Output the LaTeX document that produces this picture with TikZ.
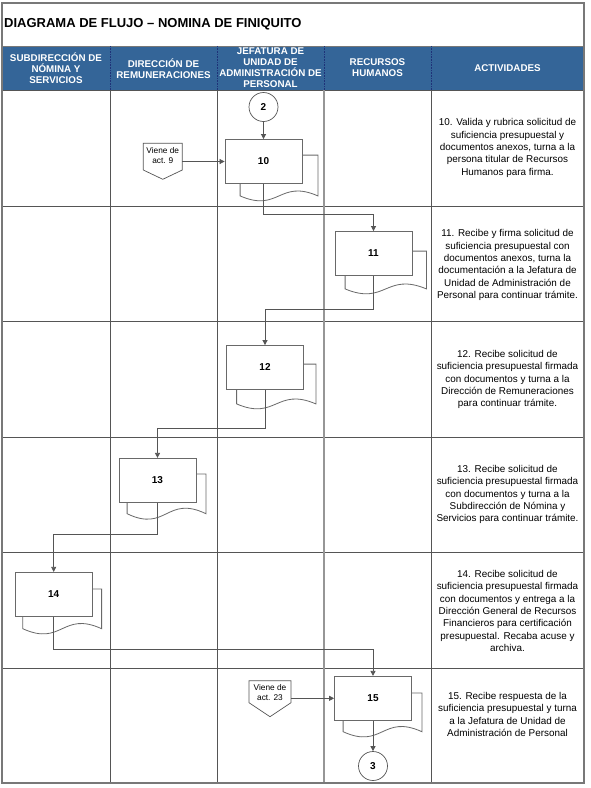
\documentclass[tikz,border=0pt]{standalone}
\usepackage{fontspec}
\setmainfont{Liberation Sans}
\usetikzlibrary{arrows.meta,calc}
\definecolor{hdr}{RGB}{52,101,152}
\definecolor{hdrline}{RGB}{30,50,120}
\definecolor{gridc}{RGB}{85,85,85}
\definecolor{lightgrid}{RGB}{150,150,150}
\definecolor{bordc}{RGB}{120,120,120}
\definecolor{boxc}{RGB}{105,105,105}
\tikzset{
  lane/.style={draw=gridc, line width=0.8pt},
  procbox/.style={draw=boxc, fill=white, line width=0.8pt, minimum width=77pt, minimum height=44pt, inner sep=0pt, font=\bfseries\fontsize{10}{11}\selectfont},
  backdoc/.style={draw=boxc, fill=white, line width=0.8pt},
  conn/.style={draw=gridc, line width=0.7pt},
  arr/.style={conn, -{Triangle[length=5pt,width=5pt]}},
  hdrtxt/.style={text=white, font=\bfseries\fontsize{9.8}{11}\selectfont, align=center, inner sep=0pt},
  acttxt/.style={font=\fontsize{9.9}{12.3}\selectfont, align=center, inner sep=0pt},
  conncirc/.style={draw=gridc, line width=0.7pt, circle, minimum size=29pt, inner sep=0pt, font=\bfseries\fontsize{10}{11}\selectfont, fill=white},
  pentxt/.style={font=\fontsize{8.3}{10}\selectfont, align=center, inner sep=0pt},
  pentshape/.style={draw=gridc, line width=0.7pt, fill=white}
}
% #1 node, #2 left offset, #3 right offset, #4 top offset, #5 bottom offset, #6 wave amplitude
\newcommand{\backpage}[6]{%
  \draw[backdoc] let \p1=(#1.north west), \p2=(#1.south east),
     \p3=(\x1+#2pt,\y2-#5pt), \p4=(\x2+#3pt,\y2-#5pt), \n1={\x4-\x3} in
     (\x1+#2pt,\y1-#4pt) -- (\x2+#3pt,\y1-#4pt) -- (\p4)
     .. controls (\x3+0.5*\n1,\y3+#6pt) and (\x3+0.5*\n1,\y3-#6pt) .. (\p3) -- cycle;}
\begin{document}
\begin{tikzpicture}[x=1pt,y=-1pt]
\useasboundingbox (0,0) rectangle (590,788);
\fill[white] (0,0) rectangle (590,788);
% title
\node[anchor=west, font=\bfseries\fontsize{13}{15}\selectfont, inner sep=0pt] (title) at (4,24) {DIAGRAMA DE FLUJO – NOMINA DE FINIQUITO};
% header band
\fill[hdr] (2,46) rectangle (584,90);
\draw[bordc, line width=1pt] (2,46) -- (584,46);
\foreach \xx in {110,217,324,431}{\draw[hdrline, densely dotted, line width=0.6pt] (\xx,46) -- (\xx,90);}
\draw[gridc, line width=1pt] (2,90.5) -- (584,90.5);
\node[hdrtxt] (h1) at (56,68) {SUBDIRECCIÓN DE\\NÓMINA Y\\SERVICIOS};
\node[hdrtxt] (h2) at (163.5,68.5) {DIRECCIÓN DE\\REMUNERACIONES};
\node[hdrtxt] (h3) at (270.5,67.5) {JEFATURA DE\\UNIDAD DE\\ADMINISTRACIÓN DE\\PERSONAL};
\node[hdrtxt] (h4) at (377.5,67.5) {RECURSOS\\HUMANOS};
\node[hdrtxt] (h5) at (507.5,68) {ACTIVIDADES};
% lanes
\foreach \yy in {206,321,437,552,668}{\draw[lane] (2,\yy) -- (584,\yy);}
\foreach \xx in {110,217,431}{\draw[lane] (\xx,90) -- (\xx,783);}
\draw[lightgrid, line width=1.4pt] (324,90) -- (324,783);
% outer border
\draw[bordc, line width=1.2pt] (2,3) rectangle (584,783);
% activities
\node[acttxt] (t10) at (507.5,148) {10. Valida y rubrica solicitud de\\suficiencia presupuestal y\\documentos anexos, turna a la\\persona titular de Recursos\\Humanos para firma.};
\node[acttxt] (t11) at (507.5,265) {11. Recibe y firma solicitud de\\suficiencia presupuestal con\\documentos anexos, turna la\\documentación a la Jefatura de\\Unidad de Administración de\\Personal para continuar trámite.};
\node[acttxt] (t12) at (507.5,379.5) {12. Recibe solicitud de\\suficiencia presupuestal firmada\\con documentos y turna a la\\Dirección de Remuneraciones\\para continuar trámite.};
\node[acttxt] (t13) at (507.5,494.5) {13. Recibe solicitud de\\suficiencia presupuestal firmada\\con documentos y turna a la\\Subdirección de Nómina y\\Servicios para continuar trámite.};
\node[acttxt] (t14) at (507.5,611) {14. Recibe solicitud de\\suficiencia presupuestal firmada\\con documentos y entrega a la\\Dirección General de Recursos\\Financieros para certificación\\presupuestal. Recaba acuse y\\archiva.};
\node[acttxt] (t15) at (507.5,714.5) {15. Recibe respuesta de la\\suficiencia presupuestal y turna\\a la Jefatura de Unidad de\\Administración de Personal};
% process boxes (coordinates only, drawn after back pages)
\path (263.5,161.5) coordinate (q10) (373.5,253.5) coordinate (q11) (265,367.5) coordinate (q12)
      (157.5,480.3) coordinate (q13) (53.7,594.3) coordinate (q14) (373,698.3) coordinate (q15);
\path node[procbox, draw=none, fill=none] (g10) at (q10) {}
      node[procbox, draw=none, fill=none] (g11) at (q11) {}
      node[procbox, draw=none, fill=none] (g12) at (q12) {}
      node[procbox, draw=none, fill=none] (g13) at (q13) {}
      node[procbox, draw=none, fill=none] (g14) at (q14) {}
      node[procbox, draw=none, fill=none] (g15) at (q15) {};
\backpage{g10}{15.5}{15.5}{16}{12}{17}
\backpage{g11}{10.5}{14}{20}{13}{17}
\backpage{g12}{10.5}{12}{19}{14}{17}
\backpage{g13}{8.5}{9.5}{16}{11}{19}
\backpage{g14}{8}{9}{17}{12}{18}
\backpage{g15}{9}{10}{17}{11}{18}
\node[procbox] (b10) at (q10) {10};
\node[procbox] (b11) at (q11) {11};
\node[procbox] (b12) at (q12) {12};
\node[procbox] (b13) at (q13) {13};
\node[procbox] (b14) at (q14) {14};
\node[procbox] (b15) at (q15) {15};
% connectors circles
\node[conncirc] (c2) at (263.5,107) {2};
\node[conncirc] (c3) at (373,766) {3};
% off-page pentagons
\draw[pentshape] (143.3,143.3) -- (182.3,143.3) -- (182.3,170) -- (162.8,179.3) -- (143.3,170) -- cycle;
\node[pentxt] (p9) at (162.8,156) {Viene de\\act. 9};
\coordinate (p9out) at (182.3,161.5);
\draw[pentshape] (249,680.7) -- (291,680.7) -- (291,702.7) -- (270,716.7) -- (249,702.7) -- cycle;
\node[pentxt] (p23) at (270,692.5) {Viene de\\act. 23};
\coordinate (p23out) at (291,698.3);
% junction levels
\coordinate (j1) at (0,214);
\coordinate (j2) at (0,309.5);
\coordinate (j3) at (0,428);
\coordinate (j4) at (0,534);
\coordinate (j5) at (0,649.3);
% flows
\draw[arr] (c2) -- (b10);
\draw[arr] (p9out) -- (b10.west);
\draw[arr] (b10.south) -- (b10.south |- j1) -| (b11.north);
\draw[arr] (b11.south) -- (b11.south |- j2) -| (b12.north);
\draw[arr] (b12.south) -- (b12.south |- j3) -| (b13.north);
\draw[arr] (b13.south) -- (b13.south |- j4) -| (b14.north);
\draw[arr] (b14.south) -- (b14.south |- j5) -| (b15.north);
\draw[arr] (p23out) -- (b15.west);
\draw[arr] (b15.south) -- (c3.north);
\end{tikzpicture}
\end{document}
